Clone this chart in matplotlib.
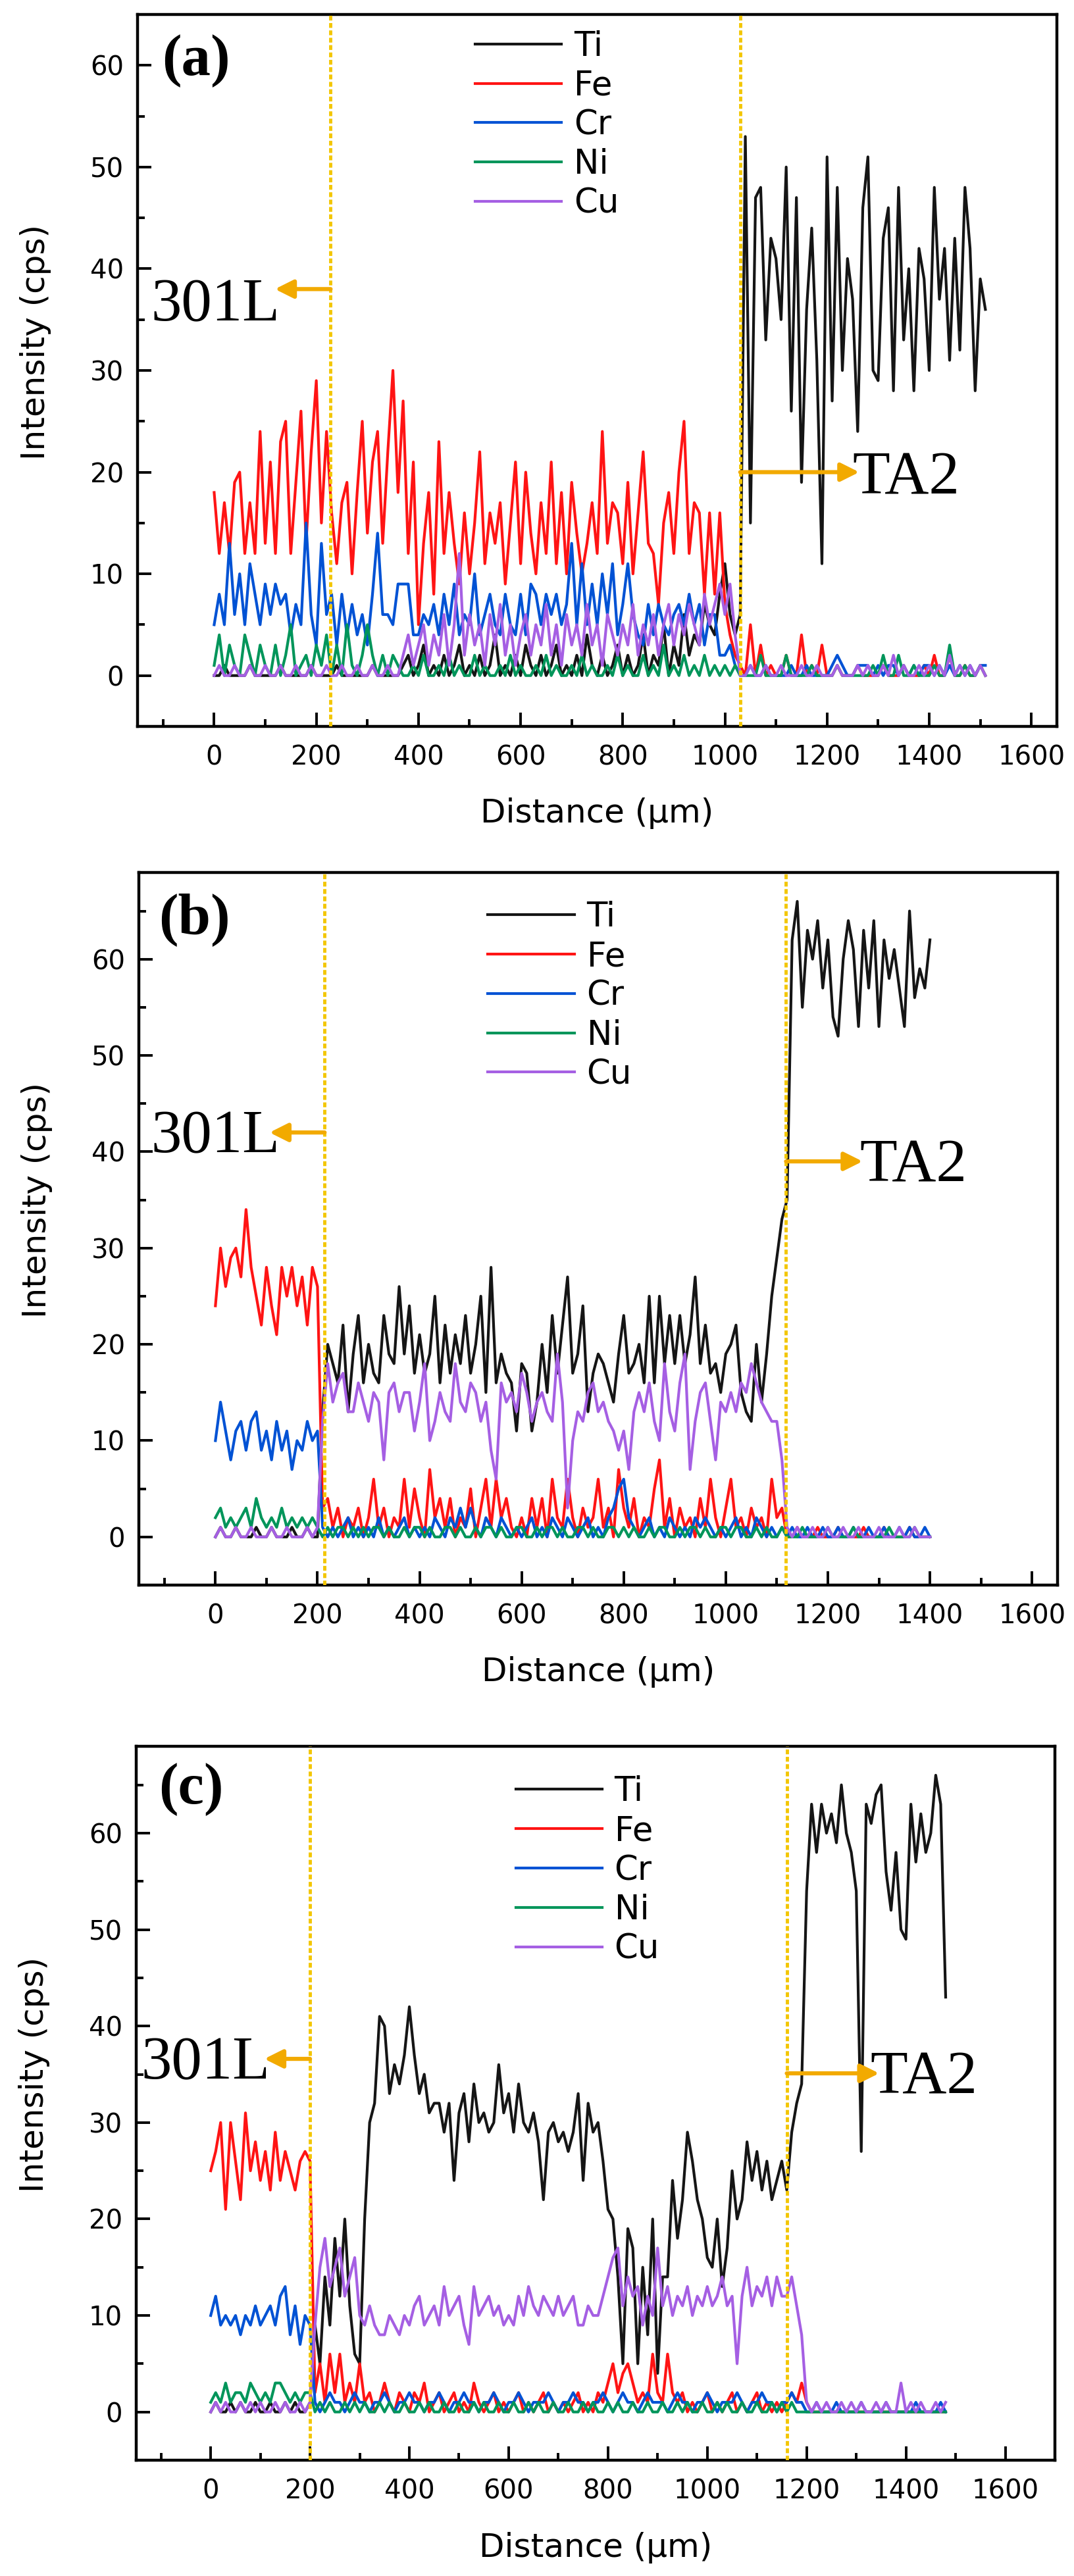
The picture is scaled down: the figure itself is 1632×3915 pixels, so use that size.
import matplotlib
matplotlib.use('Agg')
import matplotlib.pyplot as plt
from matplotlib.ticker import MultipleLocator

# EDS line scans across the 301L / TA2 joints, 10 um steps
dist_a = list(range(0, 1520, 10))
dist_b = list(range(0, 1410, 10))
dist_c = list(range(0, 1490, 10))

ti_a = [0,0,1,0,0,0,0,1,0,0, 0,0,0,1,0,0,0,0,0,1, 0,0,0,0,1,0,0,0,0,0,
        0,1,0,0,0,0,0,1,2,0, 1,3,0,1,0,2,0,1,3,0, 1,0,2,0,1,4,0,1,0,2,
        0,3,1,0,2,0,1,3,0,1, 0,2,0,4,1,0,2,0,1,3, 0,2,0,1,4,0,2,1,5,0,
        3,1,6,2,4,3,7,5,4,8, 11,6,4,6,53,15,47,48,33,43, 41,35,50,26,47,19,36,44,31,11,
        51,27,48,30,41,37,24,46,51,30, 29,43,46,28,48,33,40,28,42,39, 30,48,37,42,31,43,32,48,42,28,
        39,36]
fe_a = [18,12,17,12,19,20,12,17,12,24, 13,21,12,23,25,12,19,26,13,22, 29,15,24,16,11,17,19,10,18,25,
        14,21,24,13,22,30,18,27,12,21, 5,13,18,8,23,12,18,13,9,16, 10,15,22,11,16,13,17,9,15,21,
        11,20,14,10,17,12,21,11,18,10, 19,14,10,13,17,12,24,13,17,16, 11,19,10,16,22,13,12,7,15,18,
        12,20,25,12,17,16,8,16,8,16, 7,4,2,1,0,5,0,3,0,1, 0,0,2,0,0,4,0,1,0,3,
        0,0,1,0,0,0,1,0,0,0, 0,1,0,0,0,1,0,0,0,1, 0,2,0,0,2,0,0,1,0,0,
        1,0]
cr_a = [5,8,5,13,6,10,5,11,8,5, 9,6,9,7,8,4,7,5,15,6, 3,13,6,8,3,8,4,7,4,6,
        3,8,14,6,6,5,9,9,9,4, 4,6,5,7,4,8,5,9,4,6, 5,10,4,6,8,5,4,8,5,4,
        8,4,9,8,5,8,6,8,5,7, 13,5,11,5,9,5,10,6,11,4, 7,11,6,4,3,7,4,7,5,4,
        6,7,5,8,5,7,3,6,6,2, 2,3,1,0,0,1,0,0,1,0, 0,0,0,1,0,0,1,0,0,0,
        0,1,2,1,0,0,1,1,1,0, 1,0,1,1,0,1,0,1,0,1, 1,0,1,0,1,0,1,0,1,0,
        1,1]
ni_a = [1,4,0,3,1,0,4,2,0,3, 1,0,3,0,2,5,0,1,2,0, 3,1,4,0,3,0,5,1,0,2,
        5,2,0,2,0,2,1,0,0,1, 0,2,0,0,1,0,2,0,1,0, 0,2,0,1,0,0,1,0,2,0,
        1,0,0,1,0,2,0,1,0,0, 1,0,2,0,1,0,0,1,0,2, 0,1,0,0,2,0,1,0,3,0,
        1,0,2,0,1,0,2,0,1,0, 1,0,1,0,0,0,0,2,0,0, 0,0,2,0,0,0,0,1,0,0,
        0,0,1,0,0,0,0,0,0,1, 0,2,0,0,2,0,0,1,0,0, 0,1,0,0,3,0,0,1,0,0,
        1,0]
cu_a = [0,1,0,0,1,0,0,1,0,0, 1,0,0,1,0,0,1,0,0,1, 0,0,1,0,0,1,0,0,1,0,
        0,1,0,0,1,0,0,2,4,1, 3,5,1,4,2,6,1,5,12,2, 6,3,5,1,6,3,7,2,5,1,
        4,6,2,5,3,7,2,5,1,6, 3,5,2,7,3,5,1,6,4,2, 5,3,7,2,5,3,6,2,5,7,
        3,6,4,7,5,3,8,5,7,9, 6,9,4,0,0,1,0,0,1,0, 0,1,0,0,0,1,0,0,1,0,
        0,0,1,0,0,0,1,0,1,0, 0,1,0,2,0,1,0,0,1,0, 1,0,1,0,2,0,1,0,1,0,
        1,0]

ti_b = [0,1,0,0,1,0,0,0,1,0, 0,1,0,0,0,1,0,0,1,0, 0,13,20,18,16,22,13,19,23,16,
        20,17,16,23,19,18,26,19,24,17, 21,17,19,25,16,22,17,21,18,23, 17,20,25,15,28,16,19,17,16,11,
        18,17,11,14,20,15,23,17,22,27, 17,19,24,13,17,19,18,16,14,19, 23,17,18,20,16,25,16,25,18,23,
        18,23,18,21,27,18,22,17,18,15, 19,20,22,15,13,12,20,14,19,25, 29,33,35,62,66,55,63,60,64,57,
        62,54,52,60,64,61,53,63,57,64, 53,62,58,61,57,53,65,56,59,57, 62]
fe_b = [24,30,26,29,30,27,34,28,25,22, 28,24,21,28,25,28,24,27,22,28, 26,3,4,1,3,0,2,1,3,0,
        2,6,1,3,0,2,1,6,1,5, 2,0,7,2,4,1,4,0,2,1, 5,0,3,6,1,6,2,4,1,0,
        2,0,4,1,4,0,6,2,1,6, 2,0,3,1,2,6,1,3,0,7, 3,1,4,0,2,1,5,8,1,4,
        0,3,1,2,0,4,1,6,2,0, 3,6,1,2,0,3,1,2,0,6, 2,3,0,0,1,0,0,0,1,0,
        0,0,1,0,0,0,0,1,0,0, 0,1,0,0,0,0,1,0,0,0, 0]
cr_b = [10,14,11,8,11,12,9,12,13,9, 11,8,12,9,11,7,10,9,12,10, 11,1,0,1,0,1,2,0,1,0,
        1,0,2,0,1,0,1,2,0,1, 0,1,0,2,1,0,2,1,3,1, 3,1,0,2,1,0,2,1,0,1,
        0,1,2,0,1,0,2,1,0,2, 1,0,1,2,0,1,0,2,3,5, 6,2,1,0,1,2,0,1,0,2,
        1,0,1,0,2,1,2,1,0,1, 0,1,2,0,1,0,2,1,0,1, 0,1,0,1,0,0,1,0,0,1,
        0,0,1,0,0,1,0,0,1,0, 0,1,0,0,1,0,1,0,0,1, 0]
ni_b = [2,3,1,2,1,2,3,1,4,2, 1,2,1,3,1,2,1,2,1,2, 1,0,1,0,1,1,0,1,0,1,
        0,1,1,0,1,0,0,1,0,1, 1,0,1,0,0,1,1,0,1,0, 0,1,0,1,1,0,1,0,0,1,
        1,0,0,1,0,1,1,0,1,0, 0,1,1,0,1,0,0,1,1,0, 1,0,1,0,0,1,0,1,1,0,
        0,1,0,1,1,0,1,0,0,1, 1,0,1,1,0,0,1,0,1,0, 0,1,0,0,0,1,0,0,0,0,
        1,0,0,0,0,1,0,0,0,0, 0,0,1,0,0,0,0,1,0,0, 0]
cu_b = [0,1,0,0,1,0,0,1,0,0, 0,1,0,0,1,0,0,0,1,0, 1,12,18,14,16,17,13,13,16,14,
        12,15,14,8,15,16,13,15,15,11, 14,18,10,12,15,13,12,18,14,13, 16,15,12,14,9,6,16,14,15,13,
        17,15,12,14,15,13,12,19,14,3, 10,13,12,15,16,13,14,12,11,9, 11,7,13,15,13,16,12,10,18,13,
        11,16,19,7,12,15,16,12,8,14, 13,15,13,16,15,18,16,14,13,12, 12,8,1,0,1,0,0,1,0,0,
        1,0,0,1,0,0,1,0,0,0, 1,0,0,0,1,0,0,1,0,0, 0]

ti_c = [0,1,0,0,1,0,1,0,0,1, 0,0,1,0,0,1,0,1,0,0, 1,9,5,14,9,18,12,20,11,6,
        5,20,30,32,41,40,33,36,34,37, 42,37,33,35,31,32,32,29,32,24, 31,33,28,34,30,31,29,30,36,31,
        33,29,34,30,29,31,28,22,29,30, 28,29,27,29,33,24,32,29,30,26, 21,20,14,5,19,17,5,15,8,20,
        4,14,14,24,18,22,29,26,22,20, 16,15,20,13,17,25,20,22,28,24, 27,23,26,22,24,26,23,29,32,34,
        54,63,58,63,60,62,59,65,60,58, 54,27,63,61,64,65,56,52,58,50, 49,63,57,62,58,60,66,63,43]
fe_c = [25,27,30,21,30,26,22,31,25,28, 24,27,23,29,24,27,25,23,26,27, 26,2,5,1,6,2,6,1,3,1,
        5,1,2,0,1,3,1,0,2,1, 0,2,1,3,0,1,2,0,1,2, 0,1,0,3,1,0,1,2,0,1,
        0,1,2,0,1,0,1,2,0,1, 0,1,0,1,2,0,1,0,2,1, 3,5,2,4,5,3,1,2,1,6,
        2,1,6,2,1,2,0,1,0,1, 2,0,1,0,1,2,0,1,0,1, 2,0,1,0,1,0,1,2,1,3,
        1,0,0,0,0,0,0,0,0,0, 0,0,0,0,0,0,0,0,0,0, 0,0,0,0,0,0,0,0,0]
cr_c = [10,12,9,10,9,10,8,10,9,11, 9,10,11,9,12,13,8,11,7,10, 9,1,0,1,2,1,1,0,1,2,
        1,1,0,1,1,2,1,0,1,1, 2,1,1,0,1,1,2,1,0,1, 1,2,1,1,0,1,1,2,1,0,
        1,1,2,1,0,1,1,1,2,1, 0,1,1,2,1,1,0,1,1,2, 1,0,1,2,1,1,0,1,2,1,
        1,1,0,1,2,1,1,0,1,1, 2,1,0,1,1,1,2,1,0,1, 1,2,1,1,0,1,1,2,1,1,
        0,0,1,0,0,0,1,0,0,0, 0,1,0,0,0,0,1,0,0,0, 0,0,1,0,0,0,0,1,0]
ni_c = [1,2,1,3,1,2,2,1,3,2, 1,2,1,3,3,2,1,2,1,2, 2,0,1,0,1,0,0,1,0,1,
        0,1,0,0,1,0,1,0,0,1, 0,0,1,0,1,0,0,1,0,0, 1,0,0,1,0,1,0,0,1,0,
        0,1,0,0,1,0,1,0,0,1, 0,0,1,0,0,1,0,1,0,0, 1,0,1,0,0,1,0,0,1,0,
        0,1,0,0,1,0,1,0,0,1, 0,0,1,0,1,0,0,1,0,0, 1,0,0,1,0,1,0,1,0,0,
        0,0,0,0,0,0,0,0,0,0, 0,0,0,0,0,0,0,0,0,0, 0,0,0,0,0,0,0,0,0]
cu_c = [0,1,0,1,0,0,1,0,1,0, 1,0,0,1,0,1,0,0,1,0, 1,9,15,18,13,15,17,12,14,16,
        10,9,11,9,8,8,10,9,8,10, 9,11,12,9,10,11,9,13,10,11, 12,9,7,13,10,11,12,10,11,9,
        10,9,12,10,13,11,10,12,11,10, 12,10,11,12,9,9,11,10,10,12, 14,16,17,11,14,12,13,9,12,10,
        17,11,13,10,12,11,13,10,12,11, 13,11,12,14,11,12,5,12,15,11, 13,12,14,11,14,12,12,14,11,8,
        1,0,1,0,1,0,0,1,0,1, 0,1,0,0,1,0,1,0,0,3, 0,1,0,1,0,0,1,0,1]

elements = ['Ti', 'Fe', 'Cr', 'Ni', 'Cu']
colors = ['#151515', '#ff1414', '#0052d4', '#00955a', '#a55fe3']

W, H = 1633, 3915
panels = [
    dict(tag='(a)', x=dist_a, ys=[ti_a, fe_a, cr_a, ni_a, cu_a],
         box=(209, 22, 1606, 1104), xlim=(-150, 1650), ylim=(-5, 65),
         vlines=(228, 1030), left=(38, 119, 129, 34.9), right=(20, 1263, 1250, 17.9),
         tagpos=(0.0265, 0.935), leg=(0.367, 0.978)),
    dict(tag='(b)', x=dist_b, ys=[ti_b, fe_b, cr_b, ni_b, cu_b],
         box=(211, 1326, 1607, 2409), xlim=(-150, 1650), ylim=(-5, 69),
         vlines=(214, 1118), left=(42, 106, 127, 39.9), right=(39, 1268, 1262, 36.9),
         tagpos=(0.0215, 0.934), leg=(0.380, 0.960)),
    dict(tag='(c)', x=dist_c, ys=[ti_c, fe_c, cr_c, ni_c, cu_c],
         box=(207, 2654, 1603, 3739), xlim=(-150, 1700), ylim=(-5, 69),
         vlines=(200, 1160), left=(36.6, 108, 120, 34.5), right=(35.1, 1346, 1328, 33.0),
         tagpos=(0.0244, 0.940), leg=(0.413, 0.959)),
]

gold = '#f3c600'
arrow_col = '#f2aa00'
serif = 'Liberation Serif'

fig = plt.figure(figsize=(W / 100, H / 100), dpi=100)

for p in panels:
    x0, y0, x1, y1 = p['box']
    ax = fig.add_axes([x0 / W, 1 - y1 / H, (x1 - x0) / W, (y1 - y0) / H])
    for y, name, c in zip(p['ys'], elements, colors):
        ax.plot(p['x'], y, color=c, lw=3.0, label=name)

    ax.set_xlim(*p['xlim'])
    ax.set_ylim(*p['ylim'])
    ax.xaxis.set_minor_locator(MultipleLocator(100))
    ax.yaxis.set_minor_locator(MultipleLocator(5))
    ax.set_xticks([t for t in range(0, 1601, 200)])
    ax.set_yticks([t for t in range(0, 61, 10)])
    ax.tick_params(which='both', direction='in', width=2.8, top=False, right=False)
    ax.tick_params(which='major', length=15, labelsize=29)
    ax.tick_params(which='minor', length=8)
    ax.tick_params(axis='x', pad=20)
    ax.tick_params(axis='y', pad=15)
    for s in ax.spines.values():
        s.set_linewidth(3.2)

    ax.set_xlabel('Distance (μm)', fontsize=36)
    ax.set_ylabel('Intensity (cps)', fontsize=36)
    ax.xaxis.set_label_coords(0.5, -0.1)
    ax.yaxis.set_label_coords(-0.094, 0.54)

    for v in p['vlines']:
        ax.axvline(v, color=gold, lw=3.5, ls=(0, (1.5, 0.8)), zorder=5)

    ya, tip, txr, base = p['left']
    ax.annotate('', xy=(tip, ya), xytext=(p['vlines'][0], ya),
                arrowprops=dict(arrowstyle='-|>', color=arrow_col, lw=4.5,
                                mutation_scale=42, shrinkA=0, shrinkB=0), zorder=6)
    ax.text(txr, base, '301L', ha='right', va='baseline', fontsize=67, family=serif)

    ya, tip, txl, base = p['right']
    ax.annotate('', xy=(tip, ya), xytext=(p['vlines'][1], ya),
                arrowprops=dict(arrowstyle='-|>', color=arrow_col, lw=4.5,
                                mutation_scale=42, shrinkA=0, shrinkB=0), zorder=6)
    ax.text(txl, base, 'TA2', ha='left', va='baseline', fontsize=67, family=serif)

    ax.text(p['tagpos'][0], p['tagpos'][1], p['tag'], transform=ax.transAxes,
            ha='left', va='center', fontsize=64, fontweight='bold', family=serif)

    ax.legend(loc='upper left', bbox_to_anchor=p['leg'], frameon=False, fontsize=37,
              handlelength=2.55, handletextpad=0.37, labelspacing=0.19,
              borderpad=0, borderaxespad=0)

fig.savefig('out.png', dpi=100)
